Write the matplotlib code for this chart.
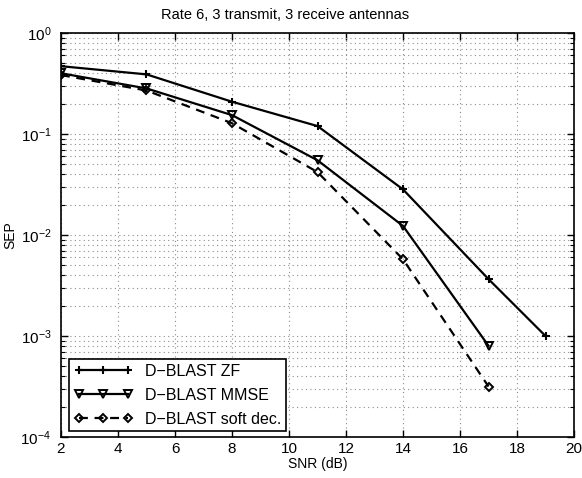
import matplotlib
matplotlib.use("Agg")
import matplotlib.pyplot as plt
from matplotlib.ticker import LogLocator, NullFormatter

plt.rcParams['font.family'] = ['Liberation Sans', 'DejaVu Sans']
plt.rcParams['mathtext.fontset'] = 'custom'
plt.rcParams['mathtext.rm'] = 'Liberation Sans'
plt.rcParams['mathtext.it'] = 'Liberation Sans:italic'
plt.rcParams['mathtext.bf'] = 'Liberation Sans:bold'

title = "Rate 6, 3 transmit, 3 receive antennas"
x_label = "SNR (dB)"
y_label = "SEP"

snr_zf = [2, 5, 8, 11, 14, 17, 19]
sep_zf = [0.47, 0.39, 0.209, 0.12, 0.0283, 0.00366, 0.001]

snr_mmse = [2, 5, 8, 11, 14, 17]
sep_mmse = [0.40, 0.283, 0.154, 0.055, 0.0123, 0.0008]

snr_soft = [2, 5, 8, 11, 14, 17]
sep_soft = [0.384, 0.27, 0.128, 0.042, 0.00575, 0.000316]

labels = ["D\u2212BLAST ZF", "D\u2212BLAST MMSE", "D\u2212BLAST soft dec."]

fig = plt.figure(figsize=(5.82, 4.78), dpi=100)
ax = fig.add_axes([0.1048, 0.0858, 0.8815, 0.845])

ax.plot(snr_zf, sep_zf, color='black', lw=1.6, marker='+', ms=5.5, mew=1.5, label=labels[0])
ax.plot(snr_mmse, sep_mmse, color='black', lw=1.6, marker='v', ms=6, mew=1.4,
        mfc='none', label=labels[1])
ax.plot(snr_soft, sep_soft, color='black', lw=1.6, ls=(0, (4, 3)), marker='D', ms=4.5, mew=1.4,
        mfc='none', label=labels[2])

ax.set_yscale('log')
ax.set_xlim(2, 20)
ax.set_ylim(1e-4, 1)
ax.set_xticks([2, 4, 6, 8, 10, 12, 14, 16, 18, 20])
ax.yaxis.set_major_locator(LogLocator(base=10, numticks=10))
ax.yaxis.set_minor_locator(LogLocator(base=10, subs=range(2, 10), numticks=20))
ax.yaxis.set_minor_formatter(NullFormatter())

ax.grid(True, which='major', ls=(0, (1, 3)), color='#8c8c8c', lw=0.8)
ax.grid(True, which='minor', axis='y', ls=(0, (1, 3)), color='#8c8c8c', lw=0.8)

ax.tick_params(which='both', direction='in', top=True, right=True, labelsize=11)
ax.tick_params(which='major', length=5, width=1)
ax.tick_params(which='minor', length=3, width=0.8)
ax.tick_params(axis='y', which='major', pad=7)
for s in ax.spines.values():
    s.set_linewidth(1.2)

ax.set_title(title, fontsize=10.5, x=0.4376, pad=10)
ax.set_xlabel(x_label, fontsize=10, labelpad=1)
ax.set_ylabel(y_label, fontsize=10, labelpad=2)

leg = ax.legend(loc='lower left', numpoints=3, handlelength=3.7, fontsize=11.5,
                fancybox=False, edgecolor='black', framealpha=1, borderaxespad=0.35,
                labelspacing=0.55, borderpad=0.3, handletextpad=0.75,
                bbox_to_anchor=(0.005, 0.0))
leg.get_frame().set_linewidth(1.2)

fig.savefig("out.png", dpi=100)
